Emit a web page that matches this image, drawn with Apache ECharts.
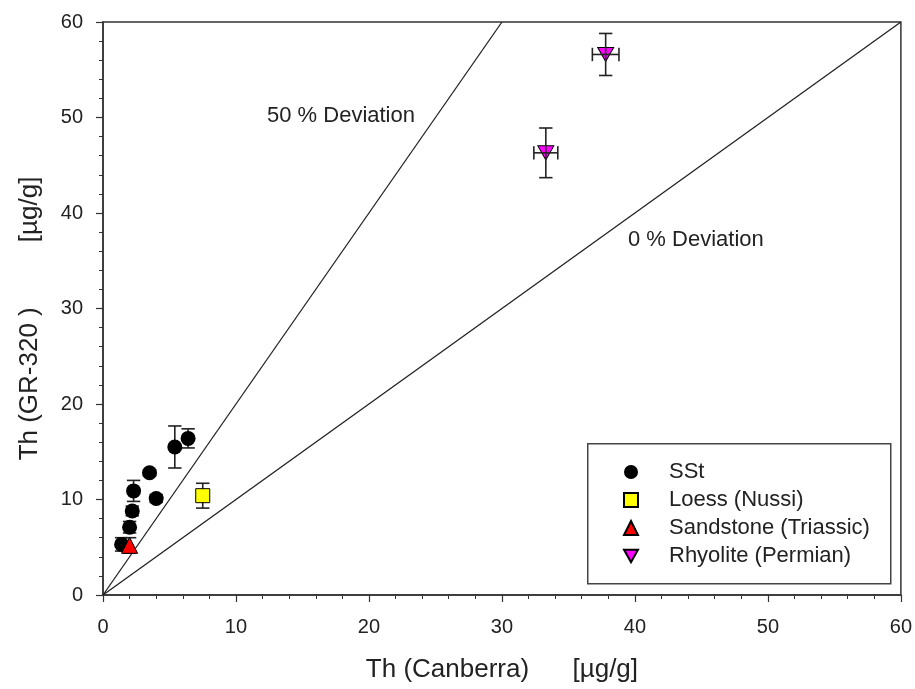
<!DOCTYPE html>
<html>
<head>
<meta charset="utf-8">
<script src="https://cdn.jsdelivr.net/npm/echarts@6/dist/echarts.min.js"></script>
<style>
  html, body { margin: 0; padding: 0; background: #fff; }
  #chart { width: 915px; height: 689px; }
</style>
</head>
<body>
<div id="chart"></div>
<script>
// SSt samples
const sstX = [1.4, 2.0, 2.2, 2.3, 3.5, 4.0, 5.4, 6.4]
const sstY = [5.3, 7.1, 8.8, 10.9, 12.8, 10.1, 15.5, 16.4]
const sstXErr = [0, 0, 0, 0, 0, 0, 0, 0]
const sstYErr = [0.7, 0.6, 0.5, 1.1, 0.3, 0.4, 2.2, 1.0]

// Loess (Nussi)
const loessX = [7.5]
const loessY = [10.4]
const loessXErr = [0]
const loessYErr = [1.3]

// Sandstone (Triassic)
const sandX = [2.0]
const sandY = [5.2]
const sandXErr = [0]
const sandYErr = [0.8]

// Rhyolite (Permian)
const rhyX = [37.8, 33.3]
const rhyY = [56.6, 46.3]
const rhyXErr = [1.0, 0.9]
const rhyYErr = [2.2, 2.6]

// reference lines
const line0 = [[0, 0], [60, 60]]
const line50 = [[0, 0], [30, 60]]

const font = '"Liberation Sans", Arial, sans-serif'
const downTriangle = 'path://M0,0 L10,0 L5,9 Z'
const zip = (xs, ys) => xs.map((x, i) => [x, ys[i]])
const zipErr = (xs, ys, xe, ye) => xs.map((x, i) => [x, ys[i], xe[i], ye[i]])

function errorBars(data, z) {
  return {
    type: 'custom',
    z: z,
    silent: true,
    data: data,
    renderItem(params, api) {
      const x = api.value(0), y = api.value(1)
      const xe = api.value(2), ye = api.value(3)
      const cap = 6.7
      const style = { stroke: '#222', lineWidth: 1.6 }
      const children = []
      if (ye > 0) {
        const top = api.coord([x, y + ye])
        const bot = api.coord([x, y - ye])
        children.push({ type: 'line', shape: { x1: top[0], y1: top[1], x2: bot[0], y2: bot[1] }, style })
        children.push({ type: 'line', shape: { x1: top[0] - cap, y1: top[1], x2: top[0] + cap, y2: top[1] }, style })
        children.push({ type: 'line', shape: { x1: bot[0] - cap, y1: bot[1], x2: bot[0] + cap, y2: bot[1] }, style })
      }
      if (xe > 0) {
        const l = api.coord([x - xe, y])
        const r = api.coord([x + xe, y])
        children.push({ type: 'line', shape: { x1: l[0], y1: l[1], x2: r[0], y2: r[1] }, style })
        children.push({ type: 'line', shape: { x1: l[0], y1: l[1] - cap, x2: l[0], y2: l[1] + cap }, style })
        children.push({ type: 'line', shape: { x1: r[0], y1: r[1] - cap, x2: r[0], y2: r[1] + cap }, style })
      }
      return { type: 'group', children }
    }
  }
}

const chart = echarts.init(document.getElementById('chart'))

const axisCommon = {
  type: 'value',
  min: 0,
  max: 60,
  interval: 10,
  nameLocation: 'middle',
  nameTextStyle: { fontFamily: font, fontSize: 26, color: '#222' },
  axisLine: { show: true, lineStyle: { color: '#333', width: 1.5 } },
  axisTick: { show: true, inside: false, length: 7, lineStyle: { color: '#333', width: 1.2 } },
  minorTick: { show: true, splitNumber: 5, length: 4, lineStyle: { color: '#333', width: 1 } },
  splitLine: { show: false },
  axisLabel: { fontFamily: font, fontSize: 20, color: '#222' }
}

const option = {
  backgroundColor: '#fff',
  animation: false,
  grid: {
    left: 103, right: 13, top: 22, bottom: 94,
    show: true, borderColor: '#333', borderWidth: 1.5
  },
  xAxis: Object.assign({}, axisCommon, {
    name: 'Th (Canberra)      [µg/g]',
    nameGap: 62,
    axisLabel: Object.assign({}, axisCommon.axisLabel, { margin: 22 })
  }),
  yAxis: Object.assign({}, axisCommon, {
    name: 'Th (GR-320 )         [µg/g]',
    nameGap: 60,
    nameTextStyle: Object.assign({}, axisCommon.nameTextStyle, { padding: [0, 20, 0, 0] }),
    axisLabel: Object.assign({}, axisCommon.axisLabel, { margin: 20 })
  }),
  legend: {
    orient: 'vertical',
    left: 623,
    top: 461,
    z: 10,
    padding: 0,
    itemGap: 6,
    itemWidth: 14,
    itemHeight: 14,
    selectedMode: false,
    textStyle: { fontFamily: font, fontSize: 22, color: '#222', padding: [0, 0, 0, 26] },
    data: ['SSt', 'Loess (Nussi)', 'Sandstone (Triassic)', 'Rhyolite (Permian)']
  },
  graphic: [
    {
      type: 'rect',
      left: 587, top: 443,
      shape: { width: 303, height: 140 },
      style: { fill: '#fff', stroke: '#444', lineWidth: 1.5 },
      z: 1
    },
    {
      type: 'text', left: 267, top: 105, z: 5,
      style: { text: '50 % Deviation', font: '22px ' + font, fill: '#222' }
    },
    {
      type: 'text', left: 628, top: 229, z: 5,
      style: { text: '0 % Deviation', font: '22px ' + font, fill: '#222' }
    }
  ],
  series: [
    {
      type: 'line', data: line0, showSymbol: false, silent: true,
      lineStyle: { color: '#222', width: 1.3 }, z: 1
    },
    {
      type: 'line', data: line50, showSymbol: false, silent: true,
      lineStyle: { color: '#222', width: 1.3 }, z: 1
    },
    errorBars(zipErr(sstX, sstY, sstXErr, sstYErr), 2),
    errorBars(zipErr(loessX, loessY, loessXErr, loessYErr), 2),
    errorBars(zipErr(sandX, sandY, sandXErr, sandYErr), 2),
    {
      name: 'SSt', type: 'scatter', data: zip(sstX, sstY),
      symbol: 'circle', symbolSize: 15,
      itemStyle: { color: '#000', opacity: 1 }, z: 3
    },
    {
      name: 'Loess (Nussi)', type: 'scatter', data: zip(loessX, loessY),
      symbol: 'rect', symbolSize: 14,
      itemStyle: { color: '#ffff00', borderColor: '#000', borderWidth: 1, opacity: 1 }, z: 3
    },
    {
      name: 'Sandstone (Triassic)', type: 'scatter', data: zip(sandX, sandY),
      symbol: 'triangle', symbolSize: 16,
      itemStyle: { color: '#ff0000', borderColor: '#000', borderWidth: 1, opacity: 1 }, z: 3
    },
    {
      name: 'Rhyolite (Permian)', type: 'scatter', data: zip(rhyX, rhyY),
      symbol: downTriangle, symbolSize: [16, 14],
      itemStyle: { color: '#ff00ff', borderColor: '#000', borderWidth: 1, opacity: 1 }, z: 3
    },
    errorBars(zipErr(rhyX, rhyY, rhyXErr, rhyYErr), 4)
  ]
}

chart.setOption(option)
</script>
</body>
</html>
